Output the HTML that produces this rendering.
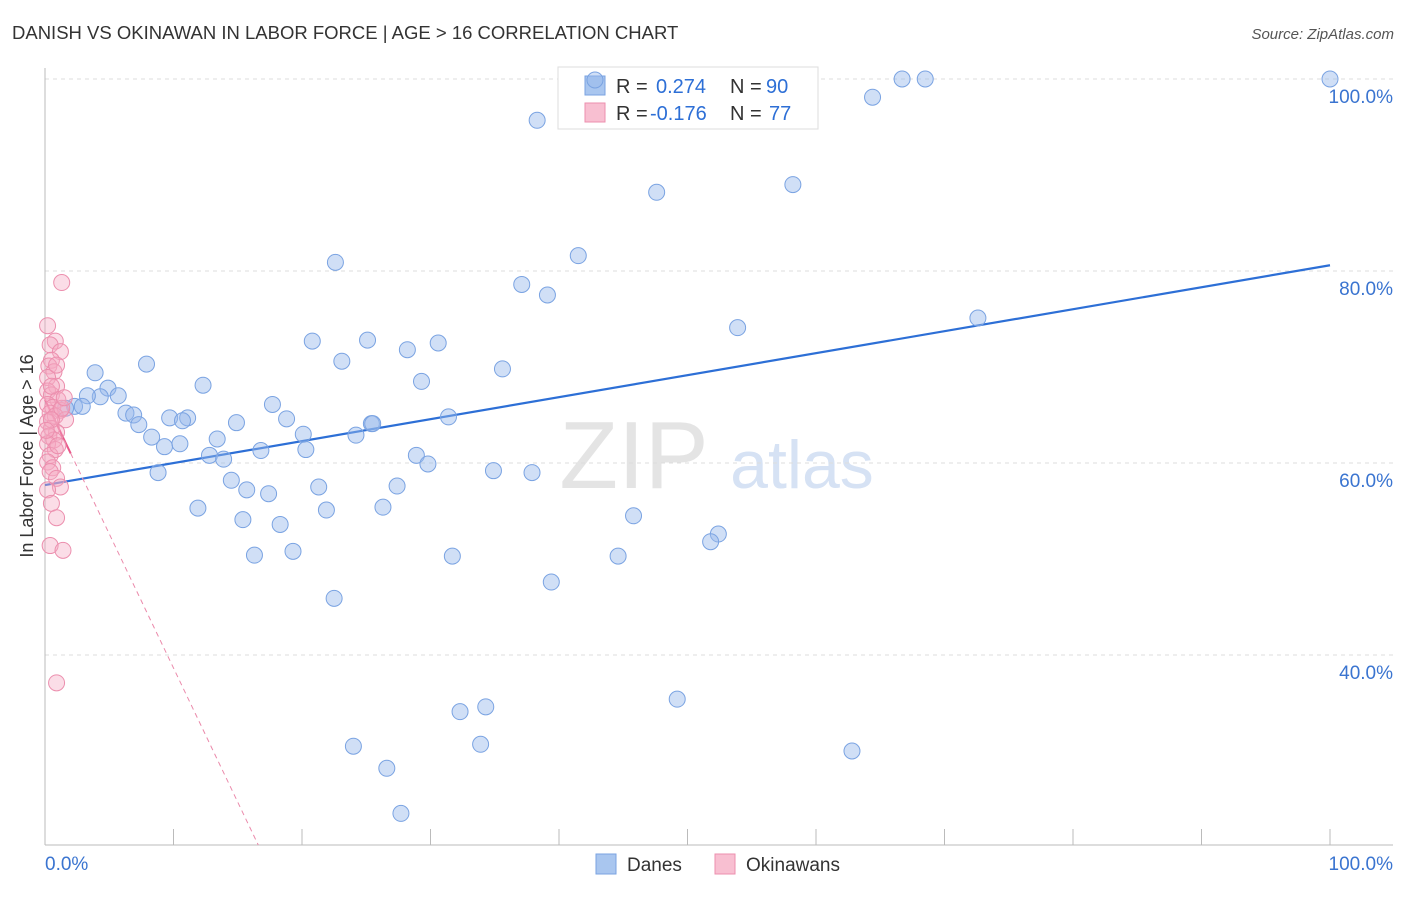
<!DOCTYPE html>
<html><head><meta charset="utf-8"><style>
body{margin:0;background:#fff;font-family:"Liberation Sans",sans-serif;}
svg text{font-family:"Liberation Sans",sans-serif;}
</style></head><body>
<svg id="chart" width="1406" height="892" viewBox="0 0 1406 892">
<text x="12" y="39" font-size="18.5" fill="#333">DANISH VS OKINAWAN IN LABOR FORCE | AGE &gt; 16 CORRELATION CHART</text>
<text x="1394" y="39" font-size="15" fill="#555" font-style="italic" text-anchor="end">Source: ZipAtlas.com</text>
<text x="634" y="488" font-size="96" fill="#e4e4e4" font-family="Liberation Serif" text-anchor="middle">ZIP</text>
<text x="802" y="488" font-size="68" fill="#d6e2f4" text-anchor="middle">atlas</text>
<g id="grid"></g>
<g id="axes"></g>
<g id="trends"></g>
<text transform="translate(33,456) rotate(-90)" font-size="18" fill="#333" text-anchor="middle">In Labor Force | Age &gt; 16</text>
<text x="45" y="870" font-size="19" fill="#3a74d0">0.0%</text>
<text x="1393" y="870" font-size="19" fill="#3a74d0" text-anchor="end">100.0%</text>
<g>
<rect x="558" y="67" width="260" height="62" fill="#fff" stroke="#ddd"/>
<rect x="585" y="76" width="20" height="19" fill="#a9c6ef" stroke="#7aa3e2"/>
<rect x="585" y="103" width="20" height="19" fill="#f8bfd1" stroke="#ec8fae"/>
<text y="93" font-size="20" fill="#333"><tspan x="616">R =</tspan><tspan x="656" fill="#2d6fd6">0.274</tspan><tspan x="730">N =</tspan><tspan x="766" fill="#2d6fd6">90</tspan></text>
<text y="120" font-size="20" fill="#333"><tspan x="616">R =</tspan><tspan x="650" fill="#2d6fd6">-0.176</tspan><tspan x="730">N =</tspan><tspan x="769" fill="#2d6fd6">77</tspan></text>
</g>
<g id="pts"></g>
<g>
<rect x="596" y="854" width="20" height="20" fill="#a9c6ef" stroke="#7aa3e2"/>
<text x="627" y="871" font-size="19" fill="#333">Danes</text>
<rect x="715" y="854" width="20" height="20" fill="#f8bfd1" stroke="#ec8fae"/>
<text x="746" y="871" font-size="19" fill="#333">Okinawans</text>
</g>
</svg>
<script>
const yTicks=[100,80,60,40];
const yTickLabels=["100.0%","80.0%","60.0%","40.0%"];
const xTicks=[0,10,20,30,40,50,60,70,80,90,100];
const danesX=[42.8,66.7,68.5,100,64.4,38.3,47.6,58.2,41.5,22.6,37.1,39.1,53.9,72.6,20.8,25.1,28.2,30.6,7.9,23.1,35.6,3.9,29.3,12.3,4.9,5.7,4.3,3.3,2.3,2.9,1.6,17.7,6.3,6.9,9.7,11.1,10.7,14.9,18.8,25.4,25.5,31.4,7.3,8.3,20.1,13.4,9.3,10.5,24.2,20.3,16.8,12.8,13.9,28.9,29.8,8.8,34.9,37.9,14.5,21.3,27.4,15.7,17.4,11.9,26.3,21.9,15.4,18.3,45.8,52.4,51.8,16.3,19.3,31.7,44.6,39.4,22.5,49.2,32.3,34.3,24.0,33.9,62.8,26.6,27.7];
const danesY=[99.9,100,100,100,98.1,95.7,88.2,89.0,81.6,80.9,78.6,77.5,74.1,75.1,72.7,72.8,71.8,72.5,70.3,70.6,69.8,69.4,68.5,68.1,67.8,67.0,66.9,67.0,65.9,65.9,65.7,66.1,65.2,65.0,64.7,64.7,64.4,64.2,64.6,64.1,64.1,64.8,64.0,62.7,63.0,62.5,61.7,62.0,62.9,61.4,61.3,60.8,60.4,60.8,59.9,59.0,59.2,59.0,58.2,57.5,57.6,57.2,56.8,55.3,55.4,55.1,54.1,53.6,54.5,52.6,51.8,50.4,50.8,50.3,50.3,47.6,45.9,35.4,34.1,34.6,30.5,30.7,30.0,28.2,23.5];
const okiX=[1.3,0.2,0.8,0.4,1.2,0.5,0.3,0.7,0.2,0.9,0.2,0.5,1.0,0.2,0.6,1.2,0.4,0.8,1.6,0.2,0.5,0.9,0.3,0.7,0.2,0.8,0.4,0.2,0.6,0.4,0.9,1.2,0.2,0.5,0.9,0.4,1.4,0.9,1.3,1.5,1.0,0.5,0.1,0.5,0.9];
const okiY=[78.8,74.3,72.7,72.3,71.6,70.7,70.1,69.5,68.9,68.0,67.5,67.1,66.6,66.1,65.8,65.5,65.2,64.9,64.5,64.3,63.6,63.2,62.8,62.4,62.0,61.4,60.8,60.1,59.5,59.1,58.4,57.5,57.2,55.8,54.3,51.4,50.9,37.1,65.7,66.8,61.8,64.5,63.4,68.0,70.2];
const danesTrend=[57.7,80.6];
const okiTrend=[66.6,61.0,20.2];
const okiTrendX=[0,2,16.6];
const NS="http://www.w3.org/2000/svg";
const X=v=>45+v*12.85, Y=v=>79+(100-v)*9.6;
function mk(t,a,p){const e=document.createElementNS(NS,t);for(const k in a)e.setAttribute(k,a[k]);p.appendChild(e);return e;}
const grid=document.getElementById('grid'),axes=document.getElementById('axes'),pts=document.getElementById('pts'),tr=document.getElementById('trends');
yTicks.forEach((v,i)=>{
 const l=mk('line',{x1:45,x2:1393,y1:Y(v),y2:Y(v),stroke:'#ddd','stroke-dasharray':'4,4'},grid);
 
 
 const t=mk('text',{x:1393,y:Y(v)+24,'font-size':19,fill:'#3a74d0','text-anchor':'end'},grid);
 t.textContent=yTickLabels[i];
 
 
});
const ax=mk('line',{x1:45,x2:45,y1:68,y2:845,stroke:'#bbb'},axes);


const bx=mk('line',{x1:45,x2:1393,y1:845,y2:845,stroke:'#bbb'},axes);


xTicks.forEach(v=>{
 const t=mk('line',{x1:X(v),x2:X(v),y1:829,y2:845,stroke:'#bbb'},axes);
 
 
});
danesX.forEach((x,i)=>{
 const c=mk('circle',{cx:X(x),cy:Y(danesY[i]),r:8,fill:'rgba(150,185,235,0.45)',stroke:'#7aa3e2','stroke-width':1},pts);
 
 
});
okiX.forEach((x,i)=>{
 const c=mk('circle',{cx:X(x),cy:Y(okiY[i]),r:8,fill:'rgba(245,170,195,0.4)',stroke:'#ec8fae','stroke-width':1},pts);
 
 
});
const bl=mk('line',{x1:X(0),y1:Y(danesTrend[0]),x2:X(100),y2:Y(danesTrend[1]),stroke:'#2d6fd6','stroke-width':2.2},tr);


const ps=mk('line',{x1:X(okiTrendX[0]),y1:Y(okiTrend[0]),x2:X(okiTrendX[1]),y2:Y(okiTrend[1]),stroke:'#e8588a','stroke-width':2},tr);


const pd=mk('line',{x1:X(okiTrendX[1]),y1:Y(okiTrend[1]),x2:X(okiTrendX[2]),y2:Y(okiTrend[2]),stroke:'#eb8aab','stroke-width':1,'stroke-dasharray':'5,4'},tr);


</script>
</body></html>
